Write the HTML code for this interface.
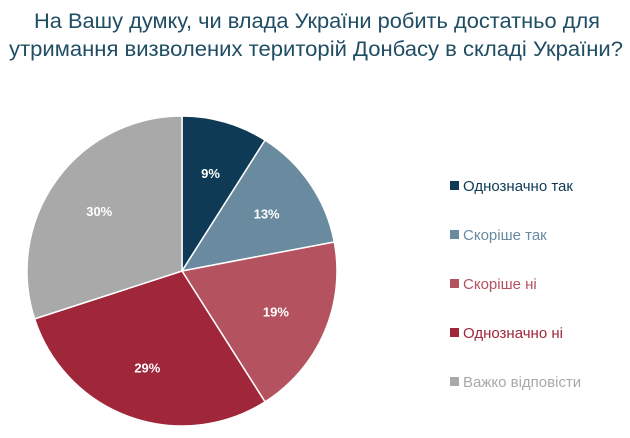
<!DOCTYPE html>
<html><head><meta charset="utf-8"><style>
html,body{margin:0;padding:0;background:#fff;}
svg{display:block;font-family:"Liberation Sans","DejaVu Sans",sans-serif;}
</style></head><body>
<svg id="c" width="630" height="438" viewBox="0 0 630 438">
<text x="317" y="28" text-anchor="middle" font-size="21" fill="#1f4d63" textLength="566" lengthAdjust="spacingAndGlyphs">На Вашу думку, чи влада України робить достатньо для</text>
<text x="316" y="56" text-anchor="middle" font-size="21" fill="#1f4d63" textLength="614" lengthAdjust="spacingAndGlyphs">утримання визволених територій Донбасу в складі України?</text>
<g id="slices"></g><g id="labels"></g><g id="legend"></g>
</svg>
<script>
const categories = ["Однозначно так","Скоріше так","Скоріше ні","Однозначно ні","Важко відповісти"];
const values = [9,13,19,29,30];
const valueLabels = ["9%","13%","19%","29%","30%"];
const colors = ["#0e3a56","#6a8aa0","#b5525f","#a0263a","#a9a9a9"];
const NS="http://www.w3.org/2000/svg";
const cx=182, cy=271, r=155;
const total=values.reduce((a,b)=>a+b,0);
function pt(a,rr){return [cx+rr*Math.sin(a), cy-rr*Math.cos(a)];}
let acc=0;
const gS=document.getElementById('slices'), gL=document.getElementById('labels'), gG=document.getElementById('legend');
values.forEach((v,i)=>{
  const a0=acc/total*2*Math.PI; acc+=v; const a1=acc/total*2*Math.PI;
  const p0=pt(a0,r), p1=pt(a1,r);
  const large=(a1-a0)>Math.PI?1:0;
  const p=document.createElementNS(NS,'path');
  p.setAttribute('d',`M${cx},${cy} L${p0[0]},${p0[1]} A${r},${r} 0 ${large} 1 ${p1[0]},${p1[1]} Z`);
  p.setAttribute('fill',colors[i]); p.setAttribute('stroke','#fff'); p.setAttribute('stroke-width','1.5');
  
  
  gS.appendChild(p);
  const m=(a0+a1)/2, lp=pt(m,r*0.66);
  const t=document.createElementNS(NS,'text');
  t.setAttribute('x',lp[0]); t.setAttribute('y',lp[1]+5);
  t.setAttribute('text-anchor','middle'); t.setAttribute('font-size','13'); t.setAttribute('font-weight','bold'); t.setAttribute('fill','#fff');
  t.textContent=valueLabels[i];
  
  
  gL.appendChild(t);
  const y=186+i*49;
  const g=document.createElementNS(NS,'g');
  
  
  const sq=document.createElementNS(NS,'rect');
  sq.setAttribute('x',450); sq.setAttribute('y',y-5); sq.setAttribute('width',9); sq.setAttribute('height',9); sq.setAttribute('fill',colors[i]);
  
  
  const lt=document.createElementNS(NS,'text');
  lt.setAttribute('x',463); lt.setAttribute('y',y+5); lt.setAttribute('font-size','15'); lt.setAttribute('fill',colors[i]);
  lt.textContent=categories[i];
  
  
  g.appendChild(sq); g.appendChild(lt); gG.appendChild(g);
});
</script>
</body></html>
